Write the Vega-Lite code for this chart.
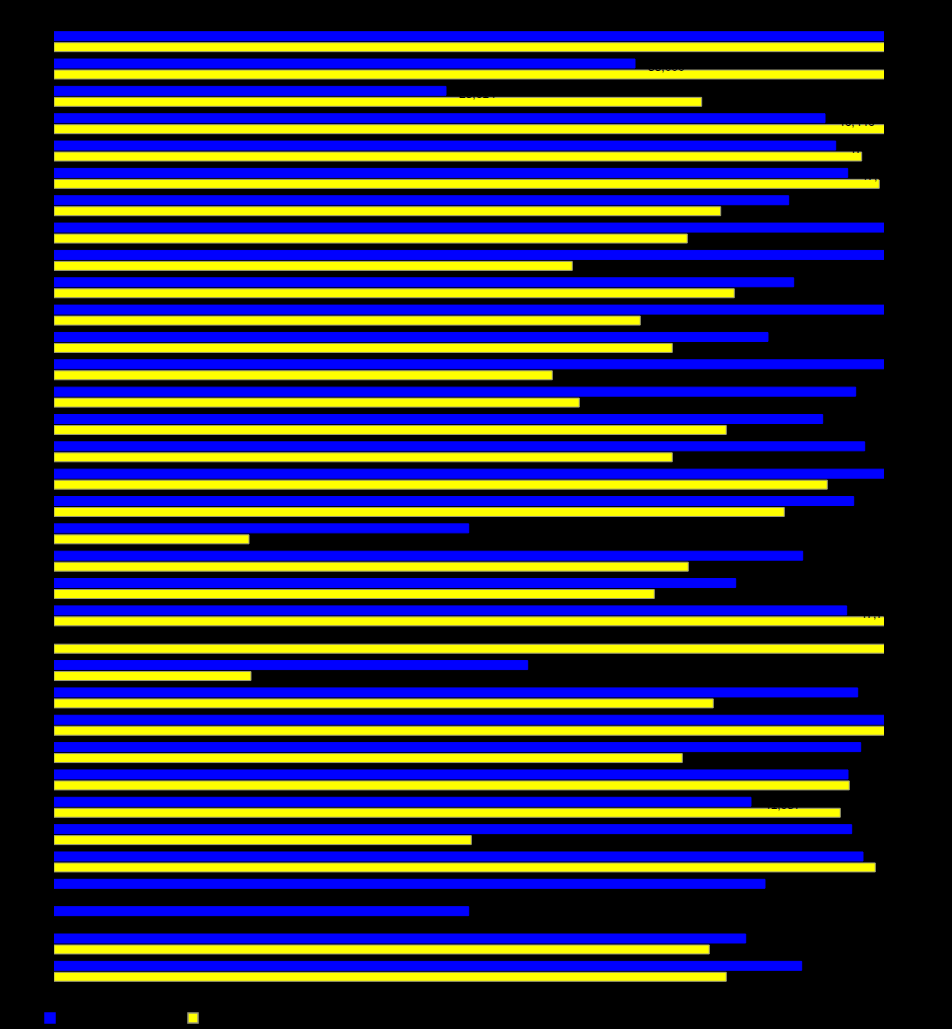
{
  "$schema": "https://vega.github.io/schema/vega-lite/v6.json",
  "width": 830,
  "height": 957,
  "autosize": "none",
  "padding": {"left": 54, "top": 28, "right": 68, "bottom": 44},
  "background": "#000000",
  "config": {
    "view": {"stroke": null},
    "axis": {"labelColor": "#000000", "domainColor": "#000000", "tickColor": "#000000", "titleColor": "#000000", "grid": false, "labelFont": "Liberation Sans", "labelFontSize": 11},
    "legend": {"labelColor": "#000000", "titleColor": "#000000", "labelFont": "Liberation Sans", "labelFontSize": 11, "padding": 0}
  },
  "data": {
    "values": [
      {"category": "Item 1", "series": "Series A", "value": 60000},
      {"category": "Item 1", "series": "Series B", "value": 60000},
      {"category": "Item 2", "series": "Series A", "value": 35000},
      {"category": "Item 2", "series": "Series B", "value": 60000},
      {"category": "Item 3", "series": "Series A", "value": 23614},
      {"category": "Item 3", "series": "Series B", "value": 39018},
      {"category": "Item 4", "series": "Series A", "value": 46446},
      {"category": "Item 4", "series": "Series B", "value": 60000},
      {"category": "Item 5", "series": "Series A", "value": 47090},
      {"category": "Item 5", "series": "Series B", "value": 48656},
      {"category": "Item 6", "series": "Series A", "value": 47813},
      {"category": "Item 6", "series": "Series B", "value": 49717},
      {"category": "Item 7", "series": "Series A", "value": 44258},
      {"category": "Item 7", "series": "Series B", "value": 40162},
      {"category": "Item 8", "series": "Series A", "value": 60000},
      {"category": "Item 8", "series": "Series B", "value": 38150},
      {"category": "Item 9", "series": "Series A", "value": 60000},
      {"category": "Item 9", "series": "Series B", "value": 31222},
      {"category": "Item 10", "series": "Series A", "value": 44559},
      {"category": "Item 10", "series": "Series B", "value": 40981},
      {"category": "Item 11", "series": "Series A", "value": 60000},
      {"category": "Item 11", "series": "Series B", "value": 35319},
      {"category": "Item 12", "series": "Series A", "value": 43011},
      {"category": "Item 12", "series": "Series B", "value": 37246},
      {"category": "Item 13", "series": "Series A", "value": 60000},
      {"category": "Item 13", "series": "Series B", "value": 30017},
      {"category": "Item 14", "series": "Series A", "value": 48294},
      {"category": "Item 14", "series": "Series B", "value": 31644},
      {"category": "Item 15", "series": "Series A", "value": 46306},
      {"category": "Item 15", "series": "Series B", "value": 40499},
      {"category": "Item 16", "series": "Series A", "value": 48837},
      {"category": "Item 16", "series": "Series B", "value": 37246},
      {"category": "Item 17", "series": "Series A", "value": 60000},
      {"category": "Item 17", "series": "Series B", "value": 46584},
      {"category": "Item 18", "series": "Series A", "value": 48174},
      {"category": "Item 18", "series": "Series B", "value": 43993},
      {"category": "Item 19", "series": "Series A", "value": 24982},
      {"category": "Item 19", "series": "Series B", "value": 11747},
      {"category": "Item 20", "series": "Series A", "value": 45101},
      {"category": "Item 20", "series": "Series B", "value": 38210},
      {"category": "Item 21", "series": "Series A", "value": 41066},
      {"category": "Item 21", "series": "Series B", "value": 36162},
      {"category": "Item 22", "series": "Series A", "value": 47752},
      {"category": "Item 22", "series": "Series B", "value": 60000},
      {"category": "Item 23", "series": "Series B", "value": 60000},
      {"category": "Item 24", "series": "Series A", "value": 28536},
      {"category": "Item 24", "series": "Series B", "value": 11867},
      {"category": "Item 25", "series": "Series A", "value": 48415},
      {"category": "Item 25", "series": "Series B", "value": 39716},
      {"category": "Item 26", "series": "Series A", "value": 60000},
      {"category": "Item 26", "series": "Series B", "value": 60000},
      {"category": "Item 27", "series": "Series A", "value": 48596},
      {"category": "Item 27", "series": "Series B", "value": 37849},
      {"category": "Item 28", "series": "Series A", "value": 47831},
      {"category": "Item 28", "series": "Series B", "value": 47909},
      {"category": "Item 29", "series": "Series A", "value": 41987},
      {"category": "Item 29", "series": "Series B", "value": 47367},
      {"category": "Item 30", "series": "Series A", "value": 48053},
      {"category": "Item 30", "series": "Series B", "value": 25138},
      {"category": "Item 31", "series": "Series A", "value": 48734},
      {"category": "Item 31", "series": "Series B", "value": 49475},
      {"category": "Item 32", "series": "Series A", "value": 42831},
      {"category": "Item 33", "series": "Series A", "value": 24982},
      {"category": "Item 34", "series": "Series A", "value": 41668},
      {"category": "Item 34", "series": "Series B", "value": 39475},
      {"category": "Item 35", "series": "Series A", "value": 45041},
      {"category": "Item 35", "series": "Series B", "value": 40499}
    ]
  },
  "encoding": {
    "y": {
      "field": "category",
      "type": "nominal",
      "sort": null,
      "scale": {"paddingInner": 0.27, "paddingOuter": 0.135},
      "axis": {"title": null, "ticks": false, "domain": false, "labelPadding": 4}
    },
    "x": {
      "field": "value",
      "type": "quantitative",
      "scale": {"domain": [0, 50000], "nice": false},
      "axis": {"title": null, "domain": false, "ticks": false, "format": ","}
    }
  },
  "layer": [
    {
      "mark": {"type": "bar", "clip": true, "strokeWidth": 1},
      "encoding": {
        "yOffset": {"field": "series", "type": "nominal", "scale": {"paddingInner": 0.18, "paddingOuter": 0}},
        "color": {
          "field": "series",
          "type": "nominal",
          "scale": {"range": ["#0000ff", "#ffff00"]},
          "legend": {
            "title": null,
            "orient": "none",
            "direction": "horizontal",
            "legendX": -10,
            "legendY": 984,
            "symbolType": "square",
            "symbolSize": 100,
            "symbolOpacity": 1,
            "columnPadding": 83
          }
        },
        "stroke": {
          "field": "series",
          "type": "nominal",
          "scale": {"range": ["#0000ff", "#9a9a7a"]},
          "legend": null
        }
      }
    },
    {
      "transform": [{"filter": "datum.series === 'Series A'"}],
      "mark": {"type": "text", "align": "left", "baseline": "middle", "dx": 13, "dy": -2, "color": "#000000", "font": "Liberation Sans", "fontSize": 12, "clip": true},
      "encoding": {
        "text": {"field": "value", "type": "quantitative", "format": ","}
      }
    }
  ]
}
